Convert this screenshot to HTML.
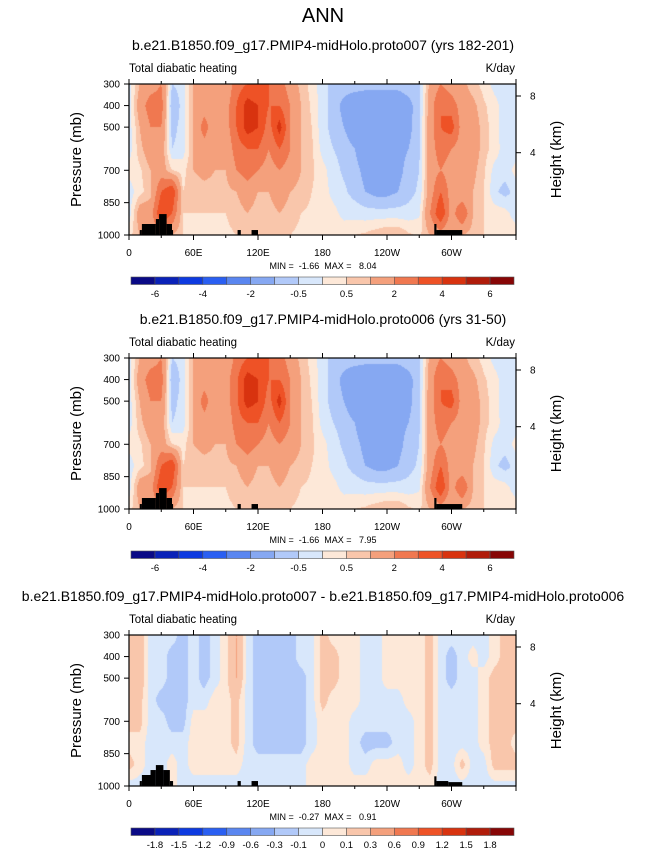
<!DOCTYPE html>
<html><head><meta charset="utf-8">
<style>
body{margin:0;background:#fff;}
#root{position:relative;width:646px;height:851px;overflow:hidden;font-family:"Liberation Sans",sans-serif;}
canvas{position:absolute;}
svg{position:absolute;left:0;top:0;}
text{white-space:pre;}
</style></head>
<body>
<div id="root">
<canvas id="c1" width="387" height="151" style="left:129px;top:84px"></canvas>
<canvas id="c2" width="387" height="151" style="left:129px;top:358px"></canvas>
<canvas id="c3" width="387" height="151" style="left:129px;top:635px"></canvas>
<svg id="ov" width="646" height="851">
<text x="323" y="22" font-size="20" text-anchor="middle">ANN</text>
</svg>
</div>
<script>
const levels=[300,400,500,600,700,800,900,1000];
const lons=[0,10,20,30,40,50,60,70,80,90,100,110,120,130,140,150,160,170,180,190,200,210,220,230,240,250,260,270,280,290,300,310,320,330,340,350,360];
const field1=[
[-0.3,-0.3,-0.3,-0.3,0.2,-0.3,-0.3,0.3],[1,1.5,1,0.8,0.4,0.3,1.5,1],[1.5,2.5,2,1.5,1,0.8,1.5,1],[2,2.5,2,1.5,1.5,3,4,2],[-0.5,-1,-0.7,-0.5,0.5,4,3,1],[-0.3,-0.3,-0.3,-0.3,0.3,0.5,0.5,0.5],[1,1,1,1,1,0.7,0.5,0.4],[1.2,1.5,2.5,1.5,1.2,0.8,0.5,0.4],[1,1.2,1.2,1.2,1,0.8,0.5,0.4],[1.2,1.5,1.5,1.2,1,0.8,0.5,0.4],[2.5,3,3,2.5,2,1,0.7,0.5],[3,4.5,4.5,3,2.5,1.5,1,0.5],[3,4,4,3,2,1,0.7,0.5],[3,3,2.5,2,1.5,1,0.7,0.5],[2.5,3,4.5,3,2,1.5,1,0.5],[1.5,2,2,2,1.5,1,0.7,0.5],[0.8,1,1,1,1,0.8,0.5,0.4],[0.3,0.4,0.5,0.6,0.6,0.5,0.4,0.3],[-0.3,-0.3,-0.3,-0.2,0.2,0.3,0.3,0.3],[-0.7,-0.7,-0.7,-0.5,-0.3,-0.2,0.2,0.3],[-0.7,-1.2,-1,-0.7,-0.6,-0.4,-0.2,0.4],[-0.7,-1.5,-1.5,-1,-0.8,-0.7,-0.2,0.5],[-0.8,-1.5,-1.5,-1.5,-1.2,-1,-0.3,0.6],[-0.8,-1.5,-1.5,-1.5,-1.5,-1.2,-0.3,0.8],[-0.8,-1.5,-1.5,-1.4,-1.5,-1.2,-0.3,1],[-0.8,-1.5,-1.5,-1.2,-1.2,-1,-0.3,1],[-0.7,-1.2,-1.2,-1,-0.8,-0.7,-0.3,0.6],[-0.6,-0.7,-0.6,-0.6,-0.5,-0.4,-0.1,0.4],[1.2,1.5,1.5,1.5,1.5,1.5,2,1],[2,3,3,2.5,2,3,4,1.5],[1.5,2.5,3.5,2,1.5,1.5,1.5,1],[1.2,1.5,1.5,1.5,1.5,1.2,3,1],[0.7,1.2,1.5,1.5,1.2,1,1,0.7],[0.3,0.6,0.7,0.7,0.6,0.5,0.5,0.5],[-0.2,0.2,0.3,0.3,-0.2,-0.4,0.3,0.5],[-0.3,-0.3,-0.5,-0.3,-0.3,-0.7,0.2,0.5],[-0.3,-0.3,-0.3,-0.3,0.2,-0.3,-0.3,0.3]];
const field2=[
[-0.3,-0.3,-0.3,-0.3,0.2,-0.3,-0.3,0.3],[1,1.5,1,0.8,0.4,0.3,1.5,1],[1.5,2.5,2,1.5,1,0.8,1.5,1],[2,2.5,2,1.5,1.5,3,4,2],[-0.5,-1,-0.7,-0.5,0.5,4,3,1],[-0.3,-0.3,-0.3,-0.3,0.3,0.5,0.5,0.5],[1,1,1,1,1,0.7,0.5,0.4],[1.2,1.5,2.5,1.5,1.2,0.8,0.5,0.4],[1,1.2,1.2,1.2,1,0.8,0.5,0.4],[1.2,1.5,1.5,1.2,1,0.8,0.5,0.4],[2.3,2.8,2.8,2.5,2,1,0.7,0.5],[3,4.5,4.5,3,2.5,1.5,1,0.5],[3,4,4,3,2,1,0.7,0.5],[3,3,2.5,2,1.5,1,0.7,0.5],[2.5,3,4.5,3,2,1.5,1,0.5],[1.5,2,2,2,1.5,1,0.7,0.5],[0.8,1,1,1,1,0.8,0.5,0.4],[0.3,0.4,0.5,0.6,0.6,0.5,0.4,0.3],[-0.3,-0.3,-0.3,-0.2,0.2,0.3,0.3,0.3],[-0.7,-0.7,-0.7,-0.5,-0.3,-0.2,0.2,0.3],[-0.7,-1.2,-1,-0.7,-0.6,-0.4,-0.2,0.4],[-0.7,-1.5,-1.5,-1,-0.8,-0.7,-0.2,0.5],[-0.8,-1.5,-1.5,-1.5,-1.2,-1,-0.3,0.6],[-0.8,-1.5,-1.5,-1.5,-1.5,-1.2,-0.3,0.8],[-0.8,-1.5,-1.5,-1.4,-1.5,-1.2,-0.3,1],[-0.8,-1.5,-1.5,-1.2,-1.2,-1,-0.3,1],[-0.7,-1.2,-1.2,-1,-0.8,-0.7,-0.3,0.6],[-0.6,-0.7,-0.6,-0.6,-0.5,-0.4,-0.1,0.4],[1.2,1.5,1.5,1.5,1.5,1.5,2,1],[2,3,3,2.5,2,3,4,1.5],[1.5,2.5,3.5,2,1.5,1.5,1.5,1],[1.2,1.5,1.5,1.5,1.5,1.2,3,1],[0.7,1.2,1.5,1.5,1.2,1,1,0.7],[0.3,0.6,0.7,0.7,0.6,0.5,0.5,0.5],[-0.2,0.2,0.3,0.3,-0.2,-0.4,0.3,0.5],[-0.3,-0.3,-0.5,-0.3,-0.3,-0.7,0.2,0.5],[-0.3,-0.3,-0.3,-0.3,0.2,-0.3,-0.3,0.3]];
const field3=[
[0.15,0.15,0.15,0.15,0.15,0.05,0.15,-0.05],[0.2,0.2,0.2,0.15,0.15,0.05,0.05,-0.05],[-0.05,-0.05,-0.05,-0.05,-0.05,-0.05,-0.05,-0.05],[-0.05,-0.05,-0.05,-0.15,-0.05,-0.05,-0.05,-0.05],[-0.05,-0.15,-0.15,-0.15,-0.15,-0.05,0.05,0.05],[-0.15,-0.15,-0.15,-0.15,-0.15,-0.05,-0.05,-0.05],[-0.05,-0.05,-0.05,-0.05,0.05,0.05,0.05,-0.05],[-0.15,-0.15,-0.15,-0.05,0.05,0.05,0.05,-0.05],[-0.05,-0.05,-0.05,0.05,0.05,0.05,0.05,-0.05],[0.05,0.05,0.05,0.05,0.05,0.05,0.05,-0.05],[0.3,0.3,0.3,0.15,0.15,0.15,0.05,-0.05],[-0.05,-0.05,-0.05,-0.05,-0.05,-0.05,-0.05,-0.05],[-0.15,-0.15,-0.15,-0.15,-0.15,-0.15,-0.05,-0.05],[-0.15,-0.15,-0.15,-0.15,-0.15,-0.15,-0.05,-0.05],[-0.15,-0.15,-0.15,-0.15,-0.15,-0.15,-0.05,-0.05],[-0.15,-0.15,-0.15,-0.15,-0.15,-0.15,-0.05,-0.05],[-0.05,-0.05,-0.15,-0.15,-0.15,-0.15,-0.05,-0.05],[-0.05,-0.05,-0.05,-0.05,-0.05,-0.05,0.05,0.05],[0.15,0.15,0.15,0.15,0.05,0.05,0.05,0.05],[0.05,0.15,0.15,0.05,0.05,0.05,0.05,0.05],[0.05,0.05,0.05,0.05,0.05,0.05,0.05,0.05],[0.05,0.05,0.05,0.05,-0.05,-0.05,-0.05,0.05],[-0.05,-0.05,-0.05,-0.05,-0.05,-0.15,-0.05,0.05],[-0.05,-0.05,-0.05,-0.05,-0.05,-0.15,0.05,0.05],[0.05,0.05,0.05,-0.05,-0.05,-0.15,0.05,0.05],[0.05,0.05,0.05,-0.05,-0.05,-0.05,0.05,0.05],[0.05,0.05,0.05,0.05,-0.05,-0.05,-0.05,0.05],[0.05,0.05,0.05,0.05,0.05,0.05,0.05,0.05],[0.15,0.15,0.15,0.15,0.15,0.15,0.15,0.05],[-0.05,-0.05,-0.05,-0.05,-0.05,-0.05,-0.05,-0.05],[-0.05,-0.15,-0.15,-0.05,-0.05,-0.05,-0.05,-0.05],[-0.05,-0.05,-0.05,-0.05,-0.05,-0.05,0.15,-0.05],[-0.05,0.05,-0.05,-0.05,-0.05,-0.05,-0.05,-0.05],[-0.05,-0.05,0.05,0.05,0.05,0.05,-0.05,-0.05],[0.05,0.05,0.15,0.15,0.15,0.15,0.15,-0.05],[0.15,0.15,0.15,0.15,0.15,0.15,0.15,-0.05],[0.15,0.15,0.15,0.15,0.15,0.05,0.15,-0.05]];
const bounds1=[-6,-5,-4,-3,-2,-1,-0.5,0,0.5,1,2,3,4,5,6];
const labels1=["-6","","-4","","-2","","-0.5","","0.5","","2","","4","","6"];
const bounds3=[-1.8,-1.5,-1.2,-0.9,-0.6,-0.3,-0.1,0,0.1,0.3,0.6,0.9,1.2,1.5,1.8];
const labels3=["-1.8","-1.5","-1.2","-0.9","-0.6","-0.3","-0.1","0","0.1","0.3","0.6","0.9","1.2","1.5","1.8"];
const colors=["#0a0a86","#0a22b8","#0d3ae0","#2a5ff2","#5a86f0","#86a8f2","#b1c9f9","#d8e7fb","#fde8d8","#f9c6ab","#f4a07c","#f07850","#ee5226","#d8330f","#b01c0a","#870606"];
const land1=[[10,12,977],[12,25,949],[25,28,926],[28,35,903],[35,40,949],[40,41,977],[101,104,977],[114,120,977],[284,286,949],[286,310,977]];
const land3=[[10,12,977],[12,20,949],[20,25,926],[25,32,903],[32,38,926],[38,41,977],[101,104,977],[114,120,977],[284,286,955],[286,297,977],[297,310,982]];
const lonTicks=["0","60E","120E","180","120W","60W"];
const pTicks=[300,400,500,700,850,1000];
const hTicks=[8,4];

const W=387,H=151,L=129;
function xOf(lon){return L+lon/360*W;}
function yOf(p,top){return top+(p-300)/700*H;}
function colorIdx(v,b){let i=0;while(i<b.length&&v>=b[i])i++;return i;}
function hex(c){return [parseInt(c.slice(1,3),16),parseInt(c.slice(3,5),16),parseInt(c.slice(5,7),16)];}
const rgb=colors.map(hex);
function sample(f,lon,p){
  let i=Math.min(Math.floor(lon/10),35),tx=(lon-lons[i])/10;
  let j=0;while(j<levels.length-2&&p>levels[j+1])j++;
  let ty=(p-levels[j])/(levels[j+1]-levels[j]);ty=Math.max(0,Math.min(1,ty));
  const a=f[i][j],b=f[i+1][j],c=f[i][j+1],d=f[i+1][j+1];
  return (a*(1-tx)+b*tx)*(1-ty)+(c*(1-tx)+d*tx)*ty;
}
function drawField(id,f,b){
  const cv=document.getElementById(id),ctx=cv.getContext('2d');
  const img=ctx.createImageData(W,H);
  for(let y=0;y<H;y++)for(let x=0;x<W;x++){
    const lon=(x+0.5)/W*360,p=300+(y+0.5)/H*700;
    const c=rgb[colorIdx(sample(f,lon,p),b)];
    const k=(y*W+x)*4;img.data[k]=c[0];img.data[k+1]=c[1];img.data[k+2]=c[2];img.data[k+3]=255;
  }
  ctx.putImageData(img,0,0);
}
const NS="http://www.w3.org/2000/svg";
const ov=document.getElementById('ov');
function el(tag,attrs,txt){const e=document.createElementNS(NS,tag);for(const k in attrs)e.setAttribute(k,attrs[k]);if(txt!==undefined)e.textContent=txt;ov.appendChild(e);return e;}
function panel(n,top,subtitle,land,minmax,b,labs){
  let t=el('text',{x:323,y:top-34,'font-size':14,'text-anchor':'middle'},subtitle);
  
  
  t=el('text',{x:129,y:top-12,'font-size':11.5},'Total diabatic heating');
  
  
  t=el('text',{x:515,y:top-12,'font-size':11.5,'text-anchor':'end'},'K/day');
  
  
  for(const s of land){
    const r=el('rect',{x:xOf(s[0]),y:yOf(s[2],top),width:xOf(s[1])-xOf(s[0]),height:yOf(1000,top)-yOf(s[2],top),fill:'#000'});
    
    
  }
  const fr=el('rect',{x:L,y:top,width:W,height:H,fill:'none',stroke:'#000','stroke-width':1.2});
  
  
  for(let lon=0;lon<=360;lon+=30){
    const x=xOf(lon),len=lon%60==0?5:3;
    el('line',{x1:x,x2:x,y1:top,y2:top-len,stroke:'#000'});
    el('line',{x1:x,x2:x,y1:top+H,y2:top+H+len,stroke:'#000'});
    if(lon%60==0&&lon<360){
      t=el('text',{x:x,y:top+H+21,'font-size':10,'text-anchor':'middle'},lonTicks[lon/60]);
      
      
    }
  }
  for(const p of pTicks){
    const y=yOf(p,top);
    el('line',{x1:L,x2:L-5,y1:y,y2:y,stroke:'#000'});
    t=el('text',{x:L-9,y:y+3.5,'font-size':10,'text-anchor':'end'},String(p));
    
    
  }
  const hy=[top+12,top+68.7];
  hTicks.forEach((h,i)=>{
    el('line',{x1:L+W,x2:L+W+5,y1:hy[i],y2:hy[i],stroke:'#000'});
    t=el('text',{x:L+W+14,y:hy[i]+3.5,'font-size':10},String(h));
    
    
  });
  t=el('text',{x:0,y:0,'font-size':15,'text-anchor':'middle',transform:'translate(81,'+(top+H/2)+') rotate(-90)'},'Pressure (mb)');
  
  
  t=el('text',{x:0,y:0,'font-size':15,'text-anchor':'middle',transform:'translate(561,'+(top+H/2)+') rotate(-90)'},'Height (km)');
  
  
  t=el('text',{x:323,y:top+H+34,'font-size':9,'text-anchor':'middle'},minmax);
  
  
  const cy=top+193,cx=131,cw=383/16;
  colors.forEach((c,i)=>{
    const r=el('rect',{x:cx+i*cw,y:cy,width:cw,height:7.5,fill:c,stroke:'#555','stroke-width':0.6});
    
    
  });
  b.forEach((v,i)=>{
    if(!labs[i])return;
    t=el('text',{x:cx+(i+1)*cw,y:cy+20,'font-size':9.5,'text-anchor':'middle'},labs[i]);
    
    
  });
}
drawField('c1',field1,bounds1);
drawField('c2',field2,bounds1);
drawField('c3',field3,bounds3);
panel(1,84,'b.e21.B1850.f09_g17.PMIP4-midHolo.proto007 (yrs 182-201)',land1,'MIN =  -1.66  MAX =   8.04',bounds1,labels1);
panel(2,358,'b.e21.B1850.f09_g17.PMIP4-midHolo.proto006 (yrs 31-50)',land1,'MIN =  -1.66  MAX =   7.95',bounds1,labels1);
panel(3,635,'b.e21.B1850.f09_g17.PMIP4-midHolo.proto007 - b.e21.B1850.f09_g17.PMIP4-midHolo.proto006',land3,'MIN =  -0.27  MAX =   0.91',bounds3,labels3);
</script>
</body></html>
